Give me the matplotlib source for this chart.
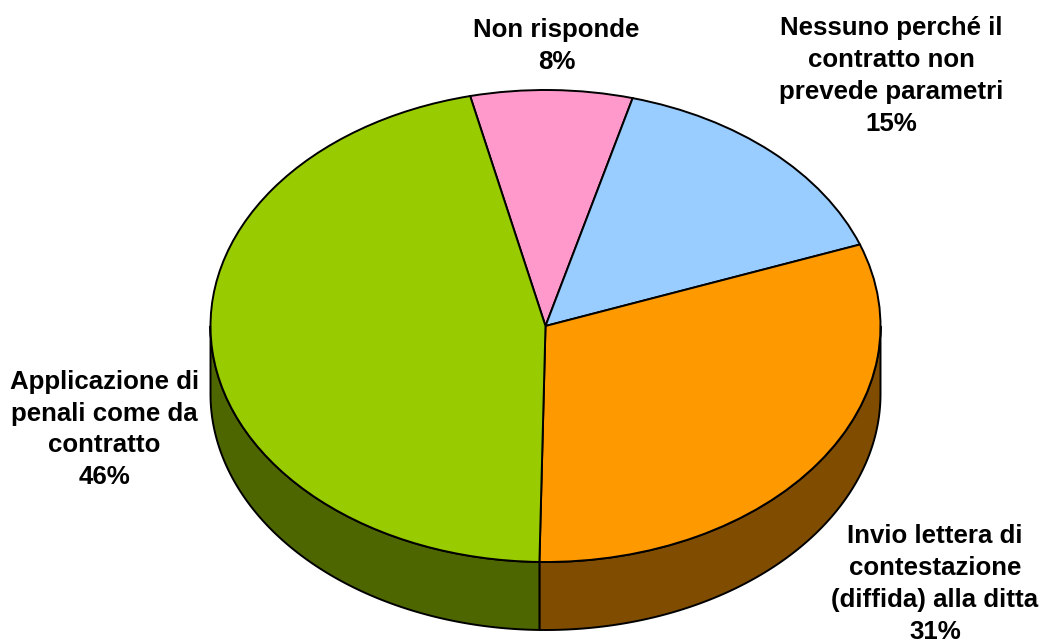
import numpy as np
import matplotlib
matplotlib.use("Agg")
import matplotlib.pyplot as plt

categories = ["Non risponde", "Nessuno perché il\ncontratto non\nprevede parametri",
              "Invio lettera di\ncontestazione\n(diffida) alla ditta", "Applicazione di\npenali come da\ncontratto"]
values = [7.8, 15.2, 30.9, 46.1]
top_colors = ["#FF99CC", "#99CCFF", "#FF9900", "#99CC00"]
side_colors = ["#804D66", "#4D6680", "#804D00", "#4D6600"]
label_px = [(556.5, 46.0), (891.5, 76.0), (935, 584), (104.5, 429.5)]

W, H = 1043, 641
cx, cy, rx, ry, depth = 545.5, 326.0, 335.0, 236.0, 68.0
start_clockwise = -13.0  # degrees clockwise from the top where the first slice begins

fig = plt.figure(figsize=(W / 100, H / 100), dpi=100)
ax = fig.add_axes([0, 0, 1, 1])
d = depth / ry

fracs = np.array(values, dtype=float) / sum(values)
edges = np.radians(start_clockwise + 360 * np.concatenate([[0], np.cumsum(fracs)]))

# side wall: the part of each slice that lies on the front half of the ellipse
for a0, a1, c in zip(edges[:-1], edges[1:], side_colors):
    for shift in (0, 2 * np.pi):
        lo = max(a0, np.pi / 2 + shift)
        hi = min(a1, 3 * np.pi / 2 + shift)
        if hi > lo:
            t = np.linspace(lo, hi, 200)
            x, y = np.sin(t), np.cos(t)
            ax.fill(np.r_[x, x[::-1]], np.r_[y, y[::-1] - d], facecolor=c,
                    edgecolor="black", linewidth=1.4, joinstyle="round", zorder=1)

wedges, _ = ax.pie(values, colors=top_colors, startangle=90 - start_clockwise, counterclock=False,
                   radius=1, center=(0, 0), frame=True, normalize=True,
                   wedgeprops=dict(edgecolor="black", linewidth=1.4, zorder=2))
ax.set_aspect("auto")
ax.set_xlim(-cx / rx, (W - cx) / rx)
ax.set_ylim((cy - H) / ry, cy / ry)
ax.axis("off")

for name, v, (px, py) in zip(categories, values, label_px):
    fig.text(px / W, 1 - py / H, f"{name}\n{v:.0f}%", ha="center", va="center", ma="center",
             family="Liberation Sans", fontweight="bold", fontsize=18.6, linespacing=1.42, color="black")

fig.savefig("out.png", dpi=100, facecolor="white")
